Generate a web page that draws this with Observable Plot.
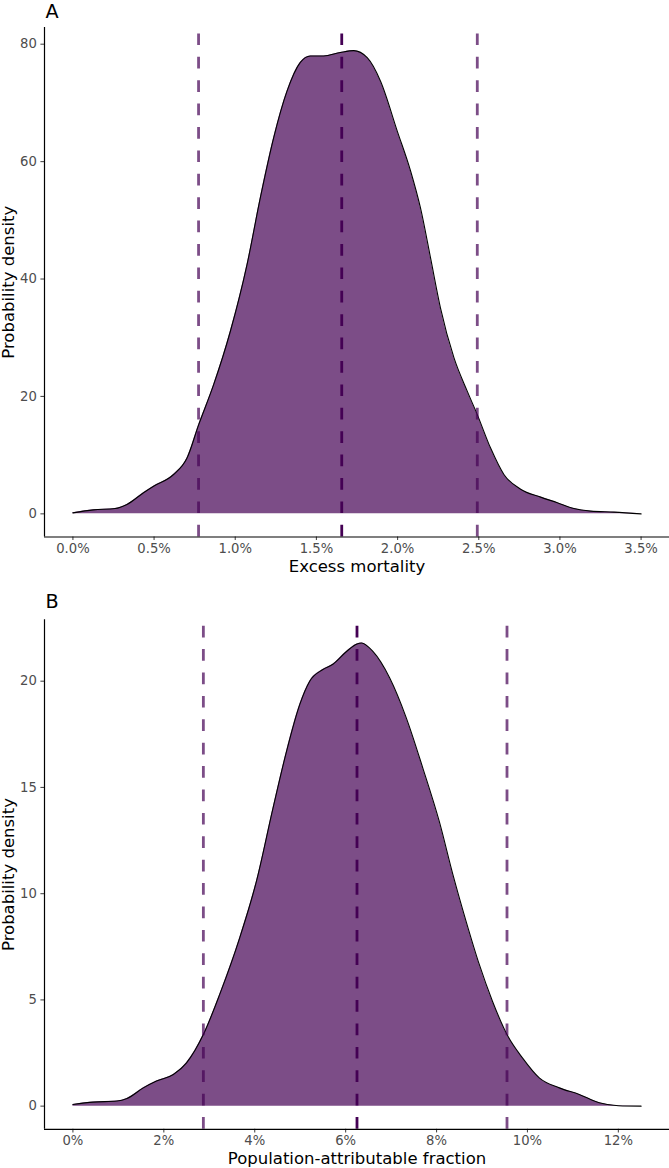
<!DOCTYPE html>
<html>
<head>
<meta charset="utf-8">
<script src="https://cdn.jsdelivr.net/npm/d3@7"></script>
<script src="https://cdn.jsdelivr.net/npm/@observablehq/plot@0.6"></script>
<style>
  body { margin: 0; background: #fff; }
  #chart { width: 669px; }
  #chart svg { display: block; }
</style>
</head>
<body>
<div id="chart"></div>
<script>
// ---- Panel A: excess mortality (%), density ----
const mortalityX = [0, 0.127, 0.26, 0.333, 0.435, 0.497, 0.62, 0.703, 0.775, 0.867, 0.97, 1.073, 1.155, 1.237, 1.319, 1.401, 1.463, 1.545, 1.648, 1.73, 1.813, 1.895, 1.998, 2.08, 2.141, 2.203, 2.264, 2.347, 2.429, 2.491, 2.573, 2.655, 2.758, 2.881, 2.984, 3.086, 3.19, 3.333, 3.5];
const mortalityDensity = [0.17, 0.68, 0.9, 1.6, 3.6, 4.7, 6.7, 9.5, 15.2, 22, 31.1, 42.5, 53.9, 64.1, 72, 76.9, 78, 78, 78.6, 78.9, 77.7, 73.7, 65.2, 58.4, 52.1, 43.6, 35.1, 26.6, 20.9, 16.9, 11.2, 6.7, 4.2, 2.85, 1.9, 0.9, 0.46, 0.29, 0.0];
const mortalityQuantiles = [0.774, 1.656, 2.491];
const mortalityTicks = [0, 0.5, 1.0, 1.5, 2.0, 2.5, 3.0, 3.5];
const mortalityTickLabels = ["0.0%", "0.5%", "1.0%", "1.5%", "2.0%", "2.5%", "3.0%", "3.5%"];
const mortalityYTicks = [0, 20, 40, 60, 80];

// ---- Panel B: population-attributable fraction (%), density ----
const pafX = [0, 0.45, 0.97, 1.19, 1.55, 1.84, 2.21, 2.5, 2.87, 3.23, 3.67, 4.04, 4.4, 4.7, 4.99, 5.21, 5.5, 5.72, 6.02, 6.25, 6.35, 6.6, 6.97, 7.33, 7.7, 8.06, 8.36, 8.65, 8.94, 9.23, 9.55, 9.89, 10.26, 10.7, 11.14, 11.58, 12.0, 12.5];
const pafDensity = [0.08, 0.19, 0.24, 0.36, 0.86, 1.18, 1.49, 2.04, 3.37, 5.26, 7.92, 10.6, 14.0, 16.7, 18.9, 20.0, 20.55, 20.8, 21.4, 21.75, 21.8, 21.4, 20.15, 18.3, 15.9, 13.4, 10.9, 8.7, 6.67, 4.94, 3.37, 2.27, 1.33, 0.86, 0.55, 0.16, 0.02, 0.0];
const pafQuantiles = [2.87, 6.25, 9.55];
const pafTicks = [0, 2, 4, 6, 8, 10, 12];
const pafTickLabels = ["0%", "2%", "4%", "6%", "8%", "10%", "12%"];
const pafYTicks = [0, 5, 10, 15, 20];

const yTitle = "Probability density";

function panel(o) {
  const W = 669, H = 584, plotH = 509.5;
  const data = o.xs.map((x, i) => ({x, y: o.ys[i]}));
  const xMax = d3.max(o.xs), yMax = d3.max(o.ys);
  const xd = [-0.05 * xMax, 1.05 * xMax];
  const yd = [-0.05 * yMax, 1.05 * yMax];
  const outer = [o.q[0], o.q[2]];
  const mid = [o.q[1]];
  const purple = "#440154";
  const dash = "11.7,11.7";
  return Plot.plot({
    width: W,
    height: H,
    marginLeft: 44,
    marginRight: 0,
    marginTop: o.mt,
    marginBottom: H - o.mt - plotH,
    style: {fontFamily: "DejaVu Sans", background: "#fff", overflow: "visible"},
    x: {domain: xd, axis: null},
    y: {domain: yd, axis: null},
    marks: [
      Plot.areaY(data, {x: "x", y: "y", fill: purple, fillOpacity: 0.7, curve: "monotone-x"}),
      Plot.lineY(data, {x: "x", y: "y", stroke: "black", strokeWidth: 1.1, curve: "monotone-x"}),
      Plot.ruleX(outer, {x: d => d, y1: () => yd[0], y2: () => yd[1], stroke: purple, strokeOpacity: 0.7, strokeWidth: 2.8, strokeDasharray: dash}),
      Plot.ruleX(mid, {x: d => d, y1: () => yd[0], y2: () => yd[1], stroke: purple, strokeWidth: 2.8, strokeDasharray: dash}),
      Plot.axisX({ticks: o.xTicks, tickFormat: d => o.xLabels[o.xTicks.indexOf(d)], tickSize: 3.6, tickPadding: 3, fontSize: 13.2, color: "#4d4d4d", strokeWidth: 1.1, label: null}),
      Plot.axisY({ticks: o.yTicks, tickFormat: d => String(d), tickSize: 3.6, tickPadding: 4, fontSize: 13.2, color: "#4d4d4d", strokeWidth: 1.1, label: null}),
      Plot.ruleX([xd[0]], {x: d => d, stroke: "black", strokeWidth: 1.2}),
      Plot.ruleY([yd[0]], {y: d => d, stroke: "black", strokeWidth: 1.2}),
      Plot.text([o.tag], {text: d => d, frameAnchor: "top-left", textAnchor: "start", lineAnchor: "bottom", dx: 1, dy: o.tagDy, fontSize: 19.2, fill: "black"}),
      Plot.text([o.xTitle], {text: d => d, frameAnchor: "bottom", textAnchor: "middle", lineAnchor: "bottom", dy: 34.8, fontSize: 16.5, fill: "black"}),
      Plot.text([yTitle], {text: d => d, frameAnchor: "left", textAnchor: "middle", rotate: -90, lineAnchor: "bottom", dx: -31, fontSize: 16.5, fill: "black"})
    ]
  });
}

const chart = document.getElementById("chart");
chart.append(panel({
  tag: "A", tagDy: -9.5, mt: 27,
  xs: mortalityX, ys: mortalityDensity, q: mortalityQuantiles,
  xTicks: mortalityTicks, xLabels: mortalityTickLabels, yTicks: mortalityYTicks,
  xTitle: "Excess mortality"
}));
chart.append(panel({
  tag: "B", tagDy: -12.3, mt: 35.3,
  xs: pafX, ys: pafDensity, q: pafQuantiles,
  xTicks: pafTicks, xLabels: pafTickLabels, yTicks: pafYTicks,
  xTitle: "Population-attributable fraction"
}));
</script>
</body>
</html>
